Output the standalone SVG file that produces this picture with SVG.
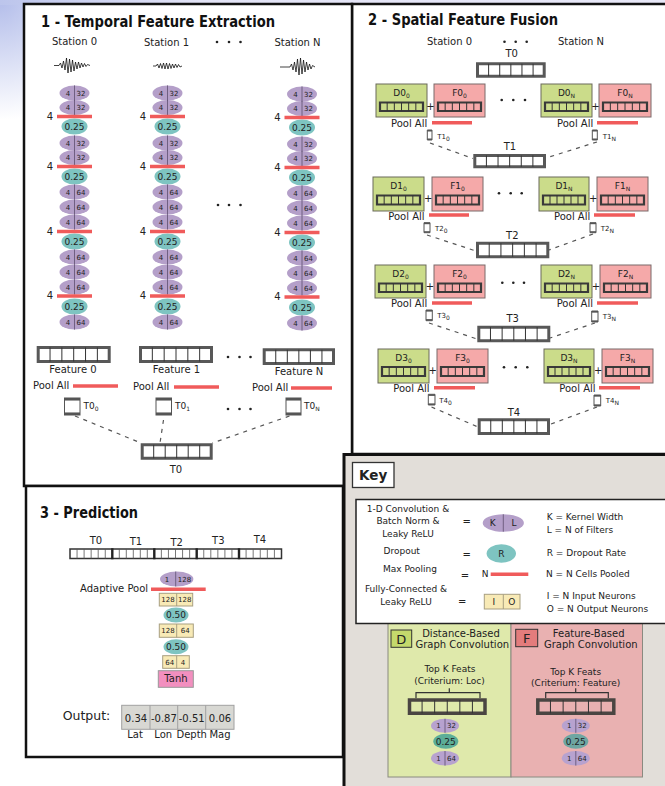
<svg xmlns="http://www.w3.org/2000/svg" width="665" height="786" viewBox="0 0 665 786">
<defs>
<radialGradient id="bgg" cx="0" cy="0" r="120" gradientUnits="userSpaceOnUse"><stop offset="0" stop-color="#b3bdea"/><stop offset="1" stop-color="#ffffff"/></radialGradient>
<linearGradient id="topg" x1="0" y1="0" x2="1" y2="0"><stop offset="0" stop-color="#bcc5ec"/><stop offset="0.3" stop-color="#e2e3f6"/><stop offset="1" stop-color="#e8e8f8"/></linearGradient>
<symbol id="ten" viewBox="0 0 60 12" preserveAspectRatio="none" overflow="visible">
<rect width="60" height="12" vector-effect="non-scaling-stroke"/>
<path d="M10 0V12M20 0V12M30 0V12M40 0V12M50 0V12" fill="none" stroke="#333" stroke-width="1" vector-effect="non-scaling-stroke"/>
</symbol>
<symbol id="tic" viewBox="0 0 10 20" preserveAspectRatio="none" overflow="visible">
<rect width="10" height="20" fill="#fff" stroke="#555" stroke-width="1" vector-effect="non-scaling-stroke"/>
<rect width="10" height="3" fill="#555"/><rect y="17" width="10" height="3" fill="#555"/>
</symbol>
<style>
.t{font-family:"DejaVu Sans",Verdana,sans-serif;fill:#222}
.c{text-anchor:middle}
.f10{font-size:10px}.f9{font-size:9px}.f7{font-size:7px}.f12{font-size:12.5px}
.sb{font-size:6px}
.ttl{font-size:15px;font-weight:bold;fill:#111}
.pe{fill:#b49fc9}
.te{fill:#7ec4c1}
.dv{stroke:#5e4f70;stroke-width:0.8;fill:none}
.rb{stroke:#f05b5b;stroke-width:3.5;fill:none}
.ds{stroke:#555;stroke-width:1.2;stroke-dasharray:4 5;fill:none}
.gb{fill:#cbdc8a;stroke:#6a6a5a;stroke-width:1}
.pb{fill:#f5a9a9;stroke:#7a6a6a;stroke-width:1}
.fc{fill:#f8eab6;stroke:#a89f80;stroke-width:1}
.wv{stroke:#111;stroke-width:0.8;fill:none;stroke-linejoin:round}
.tw{fill:#fff;stroke:#585858;stroke-width:3}
.tg{fill:#cbdc8a;stroke:#3a3a3a;stroke-width:2.2}
.tp{fill:#f5a9a9;stroke:#3a3a3a;stroke-width:2.2}
.dot{fill:#222}
</style>
</defs>

<rect width="665" height="786" fill="url(#bgg)"/>
<rect width="665" height="5" fill="url(#topg)"/>

<!-- Panel 2 -->
<g id="panel2">
<rect x="352" y="4" width="330" height="450" fill="#fff" stroke="#111" stroke-width="2.5"/>
<text class="t ttl" x="368" y="25" textLength="190" lengthAdjust="spacingAndGlyphs">2 - Spatial Feature Fusion</text>
<text class="t f10 c" x="449.5" y="45">Station 0</text>
<text class="t f10 c" x="581" y="45">Station N</text>
</g>

<!-- Panel 1 -->
<g id="panel1">
<rect x="24" y="4" width="328" height="482" fill="#fff" stroke="#111" stroke-width="2.5"/>
<text class="t ttl" x="41" y="27" textLength="234" lengthAdjust="spacingAndGlyphs">1 - Temporal Feature Extraction</text>
<text class="t f10 c" x="74.5" y="45">Station 0</text>
<text class="t f10 c" x="166.5" y="46">Station 1</text>
<text class="t f10 c" x="297.5" y="46">Station N</text>
</g>

<g id="waveforms">
<polyline class="wv" points="54,65.5 59,65.5 60.5,63 62,68 63.5,61 65,70 66.5,58 68,73 69.5,59 71,72 72.5,60 74,71 75.5,62 77,69 78.5,62 80,68 81.5,63 83,67 84.5,63.5 86,66.5 87.5,64.5 90,65.5"/>
<polyline class="wv" points="153,66 156,66 157.5,64 159,68 160.5,63.5 162,68.5 163.5,63 165,69 166.5,63 168,69 169.5,63.5 171,68.5 172.5,64 174,68 175.5,64 177,67.5 178.5,64.5 180,67 182,66"/>
<polyline class="wv" points="280,67 290,67 291.5,64 293,70 294.5,62 296,72 297.5,59 299,75 300.5,58 302,74 303.5,60 305,72 306.5,62 308,70 309.5,64 311,69 312.5,65.5 315,67"/>
</g>

<g id="col0" transform="translate(74.5,0)">
<ellipse class="pe" cy="93" rx="15" ry="7.6"/><ellipse class="pe" cy="107.5" rx="15" ry="7.6"/>
<ellipse class="te" cy="126.5" rx="13" ry="8"/>
<ellipse class="pe" cy="143" rx="15" ry="7.6"/><ellipse class="pe" cy="157.5" rx="15" ry="7.6"/>
<ellipse class="te" cy="176.5" rx="13" ry="8"/>
<ellipse class="pe" cy="192" rx="15" ry="7.6"/><ellipse class="pe" cy="207" rx="15" ry="7.6"/><ellipse class="pe" cy="222" rx="15" ry="7.6"/>
<ellipse class="te" cy="241.5" rx="13" ry="8"/>
<ellipse class="pe" cy="257" rx="15" ry="7.6"/><ellipse class="pe" cy="272" rx="15" ry="7.6"/><ellipse class="pe" cy="287" rx="15" ry="7.6"/>
<ellipse class="te" cy="306.5" rx="13" ry="8"/>
<ellipse class="pe" cy="322" rx="15" ry="7.6"/>
<path class="dv" d="M0 85.4V100.6M0 99.9V115.1M0 135.4V150.6M0 149.9V165.1M0 184.4V199.6M0 199.4V214.6M0 214.4V229.6M0 249.4V264.6M0 264.4V279.6M0 279.4V294.6M0 314.4V329.6"/>
<path class="rb" d="M-17.5 116.5H17.5M-17.5 166.5H17.5M-17.5 231.5H17.5M-17.5 296H17.5"/>
<text class="t f7 c" y="95.5"><tspan x="-6.5">4</tspan><tspan x="6.5">32</tspan></text>
<text class="t f7 c" y="110"><tspan x="-6.5">4</tspan><tspan x="6.5">32</tspan></text>
<text class="t f7 c" y="145.5"><tspan x="-6.5">4</tspan><tspan x="6.5">32</tspan></text>
<text class="t f7 c" y="160"><tspan x="-6.5">4</tspan><tspan x="6.5">32</tspan></text>
<text class="t f7 c" y="194.5"><tspan x="-6.5">4</tspan><tspan x="6.5">64</tspan></text>
<text class="t f7 c" y="209.5"><tspan x="-6.5">4</tspan><tspan x="6.5">64</tspan></text>
<text class="t f7 c" y="224.5"><tspan x="-6.5">4</tspan><tspan x="6.5">64</tspan></text>
<text class="t f7 c" y="259.5"><tspan x="-6.5">4</tspan><tspan x="6.5">64</tspan></text>
<text class="t f7 c" y="274.5"><tspan x="-6.5">4</tspan><tspan x="6.5">64</tspan></text>
<text class="t f7 c" y="289.5"><tspan x="-6.5">4</tspan><tspan x="6.5">64</tspan></text>
<text class="t f7 c" y="324.5"><tspan x="-6.5">4</tspan><tspan x="6.5">64</tspan></text>
<text class="t f9 c" y="129.7">0.25</text><text class="t f9 c" y="179.7">0.25</text><text class="t f9 c" y="244.7">0.25</text><text class="t f9 c" y="309.7">0.25</text>
<text class="t f10 c" x="-24.5" y="119.8">4</text><text class="t f10 c" x="-24.5" y="169.8">4</text><text class="t f10 c" x="-24.5" y="234.8">4</text><text class="t f10 c" x="-24.5" y="299.3">4</text>
</g>

<g id="col1" transform="translate(167.5,0)">
<ellipse class="pe" cy="93" rx="15" ry="7.6"/><ellipse class="pe" cy="107.5" rx="15" ry="7.6"/>
<ellipse class="te" cy="126.5" rx="13" ry="8"/>
<ellipse class="pe" cy="143" rx="15" ry="7.6"/><ellipse class="pe" cy="157.5" rx="15" ry="7.6"/>
<ellipse class="te" cy="176.5" rx="13" ry="8"/>
<ellipse class="pe" cy="192" rx="15" ry="7.6"/><ellipse class="pe" cy="207" rx="15" ry="7.6"/><ellipse class="pe" cy="222" rx="15" ry="7.6"/>
<ellipse class="te" cy="241.5" rx="13" ry="8"/>
<ellipse class="pe" cy="257" rx="15" ry="7.6"/><ellipse class="pe" cy="272" rx="15" ry="7.6"/><ellipse class="pe" cy="287" rx="15" ry="7.6"/>
<ellipse class="te" cy="306.5" rx="13" ry="8"/>
<ellipse class="pe" cy="322" rx="15" ry="7.6"/>
<path class="dv" d="M0 85.4V100.6M0 99.9V115.1M0 135.4V150.6M0 149.9V165.1M0 184.4V199.6M0 199.4V214.6M0 214.4V229.6M0 249.4V264.6M0 264.4V279.6M0 279.4V294.6M0 314.4V329.6"/>
<path class="rb" d="M-17.5 116.5H17.5M-17.5 166.5H17.5M-17.5 231.5H17.5M-17.5 296H17.5"/>
<text class="t f7 c" y="95.5"><tspan x="-6.5">4</tspan><tspan x="6.5">32</tspan></text>
<text class="t f7 c" y="110"><tspan x="-6.5">4</tspan><tspan x="6.5">32</tspan></text>
<text class="t f7 c" y="145.5"><tspan x="-6.5">4</tspan><tspan x="6.5">32</tspan></text>
<text class="t f7 c" y="160"><tspan x="-6.5">4</tspan><tspan x="6.5">32</tspan></text>
<text class="t f7 c" y="194.5"><tspan x="-6.5">4</tspan><tspan x="6.5">64</tspan></text>
<text class="t f7 c" y="209.5"><tspan x="-6.5">4</tspan><tspan x="6.5">64</tspan></text>
<text class="t f7 c" y="224.5"><tspan x="-6.5">4</tspan><tspan x="6.5">64</tspan></text>
<text class="t f7 c" y="259.5"><tspan x="-6.5">4</tspan><tspan x="6.5">64</tspan></text>
<text class="t f7 c" y="274.5"><tspan x="-6.5">4</tspan><tspan x="6.5">64</tspan></text>
<text class="t f7 c" y="289.5"><tspan x="-6.5">4</tspan><tspan x="6.5">64</tspan></text>
<text class="t f7 c" y="324.5"><tspan x="-6.5">4</tspan><tspan x="6.5">64</tspan></text>
<text class="t f9 c" y="129.7">0.25</text><text class="t f9 c" y="179.7">0.25</text><text class="t f9 c" y="244.7">0.25</text><text class="t f9 c" y="309.7">0.25</text>
<text class="t f10 c" x="-24.5" y="119.8">4</text><text class="t f10 c" x="-24.5" y="169.8">4</text><text class="t f10 c" x="-24.5" y="234.8">4</text><text class="t f10 c" x="-24.5" y="299.3">4</text>
</g>

<g id="colN" transform="translate(302,1)">
<ellipse class="pe" cy="93" rx="15" ry="7.6"/><ellipse class="pe" cy="107.5" rx="15" ry="7.6"/>
<ellipse class="te" cy="126.5" rx="13" ry="8"/>
<ellipse class="pe" cy="143" rx="15" ry="7.6"/><ellipse class="pe" cy="157.5" rx="15" ry="7.6"/>
<ellipse class="te" cy="176.5" rx="13" ry="8"/>
<ellipse class="pe" cy="192" rx="15" ry="7.6"/><ellipse class="pe" cy="207" rx="15" ry="7.6"/><ellipse class="pe" cy="222" rx="15" ry="7.6"/>
<ellipse class="te" cy="241.5" rx="13" ry="8"/>
<ellipse class="pe" cy="257" rx="15" ry="7.6"/><ellipse class="pe" cy="272" rx="15" ry="7.6"/><ellipse class="pe" cy="287" rx="15" ry="7.6"/>
<ellipse class="te" cy="306.5" rx="13" ry="8"/>
<ellipse class="pe" cy="322" rx="15" ry="7.6"/>
<path class="dv" d="M0 85.4V100.6M0 99.9V115.1M0 135.4V150.6M0 149.9V165.1M0 184.4V199.6M0 199.4V214.6M0 214.4V229.6M0 249.4V264.6M0 264.4V279.6M0 279.4V294.6M0 314.4V329.6"/>
<path class="rb" d="M-17.5 116.5H17.5M-17.5 166.5H17.5M-17.5 231.5H17.5M-17.5 296H17.5"/>
<text class="t f7 c" y="95.5"><tspan x="-6.5">4</tspan><tspan x="6.5">32</tspan></text>
<text class="t f7 c" y="110"><tspan x="-6.5">4</tspan><tspan x="6.5">32</tspan></text>
<text class="t f7 c" y="145.5"><tspan x="-6.5">4</tspan><tspan x="6.5">32</tspan></text>
<text class="t f7 c" y="160"><tspan x="-6.5">4</tspan><tspan x="6.5">32</tspan></text>
<text class="t f7 c" y="194.5"><tspan x="-6.5">4</tspan><tspan x="6.5">64</tspan></text>
<text class="t f7 c" y="209.5"><tspan x="-6.5">4</tspan><tspan x="6.5">64</tspan></text>
<text class="t f7 c" y="224.5"><tspan x="-6.5">4</tspan><tspan x="6.5">64</tspan></text>
<text class="t f7 c" y="259.5"><tspan x="-6.5">4</tspan><tspan x="6.5">64</tspan></text>
<text class="t f7 c" y="274.5"><tspan x="-6.5">4</tspan><tspan x="6.5">64</tspan></text>
<text class="t f7 c" y="289.5"><tspan x="-6.5">4</tspan><tspan x="6.5">64</tspan></text>
<text class="t f7 c" y="324.5"><tspan x="-6.5">4</tspan><tspan x="6.5">64</tspan></text>
<text class="t f9 c" y="129.7">0.25</text><text class="t f9 c" y="179.7">0.25</text><text class="t f9 c" y="244.7">0.25</text><text class="t f9 c" y="309.7">0.25</text>
<text class="t f10 c" x="-24.5" y="119.8">4</text><text class="t f10 c" x="-24.5" y="169.8">4</text><text class="t f10 c" x="-24.5" y="234.8">4</text><text class="t f10 c" x="-24.5" y="299.3">4</text>
</g>

<g id="features1">
<g id="feat0"><use href="#ten" class="tw" x="38.2" y="347.5" width="71" height="14"/><text class="t f10 c" x="73" y="372.5">Feature 0</text>
<text class="t f10" x="33" y="389">Pool All</text><path class="rb" d="M73 386H118" stroke-width="4"/>
<use href="#tic" x="64.5" y="398" width="15.5" height="17"/><text class="t f9" x="83.5" y="409">T0<tspan class="sb" dy="2">0</tspan></text></g>
<g id="feat1"><use href="#ten" class="tw" x="140.5" y="347.5" width="71" height="14"/><text class="t f10 c" x="176.5" y="372.5">Feature 1</text>
<text class="t f10" x="133" y="390">Pool All</text><path class="rb" d="M174 387H219" stroke-width="4"/>
<use href="#tic" x="156" y="398" width="15.5" height="17"/><text class="t f9" x="175" y="409">T0<tspan class="sb" dy="2">1</tspan></text></g>
<g id="featN"><use href="#ten" class="tw" x="264.2" y="349.8" width="69.3" height="13.7"/><text class="t f10 c" x="299" y="375">Feature N</text>
<text class="t f10" x="252" y="390.5">Pool All</text><path class="rb" d="M291 388H332" stroke-width="4"/>
<use href="#tic" x="286" y="398" width="15" height="17"/><text class="t f9" x="304" y="409">T0<tspan class="sb" dy="2">N</tspan></text></g>
<g id="T0agg"><use href="#ten" class="tw" x="142.2" y="444.8" width="69" height="13.5"/><text class="t f10 c" x="176" y="473">T0</text></g>
</g>

<g id="dots" class="dot">
<circle cx="217" cy="42" r="1.3"/><circle cx="229" cy="42" r="1.3"/><circle cx="240.5" cy="42" r="1.3"/>
<circle cx="218" cy="205" r="1.3"/><circle cx="229" cy="205" r="1.3"/><circle cx="240.5" cy="205" r="1.3"/>
<circle cx="228" cy="357" r="1.3"/><circle cx="239.5" cy="357" r="1.3"/><circle cx="250.5" cy="357" r="1.3"/>
<circle cx="228" cy="409" r="1.3"/><circle cx="239.5" cy="409" r="1.3"/><circle cx="250.5" cy="409" r="1.3"/>
<circle cx="504.5" cy="41.7" r="1.3"/><circle cx="515.7" cy="41.7" r="1.3"/><circle cx="526.7" cy="41.7" r="1.3"/>
<circle cx="501.7" cy="100" r="1.3"/><circle cx="513.3" cy="100" r="1.3"/><circle cx="525" cy="100" r="1.3"/>
<circle cx="499" cy="193.3" r="1.3"/><circle cx="510.7" cy="193.3" r="1.3"/><circle cx="521.7" cy="193.3" r="1.3"/>
<circle cx="502.3" cy="282.7" r="1.3"/><circle cx="513.3" cy="282.7" r="1.3"/><circle cx="524" cy="282.7" r="1.3"/>
<circle cx="504" cy="367.3" r="1.3"/><circle cx="515.7" cy="367.3" r="1.3"/><circle cx="527.3" cy="367.3" r="1.3"/>
</g>

<!-- Panel 2 nodes -->
<g id="T0box"><text class="t f10 c" x="511.7" y="57.3">T0</text><use href="#ten" class="tw" x="477.5" y="63.8" width="66.7" height="12.4"/></g>
<g id="T1box"><text class="t f10 c" x="510" y="150">T1</text><use href="#ten" class="tw" x="474.8" y="155.5" width="69.7" height="11.3"/></g>
<g id="T2box"><text class="t f10 c" x="512.3" y="239">T2</text><use href="#ten" class="tw" x="477.5" y="243.2" width="70.3" height="13.6"/></g>
<g id="T3box"><text class="t f10 c" x="512.7" y="322.3">T3</text><use href="#ten" class="tw" x="478.8" y="327.2" width="70" height="13.6"/></g>
<g id="T4box"><text class="t f10 c" x="514" y="415.7">T4</text><use href="#ten" class="tw" x="479.2" y="419.8" width="69.3" height="13.7"/></g>

<g id="row0">
<g id="D0_0"><rect class="gb" x="376" y="84" width="51" height="33"/><text class="t f9 c" x="401.5" y="96">D0<tspan class="sb" dy="1.5">0</tspan></text><use href="#ten" class="tg" x="380" y="102.5" width="43" height="8.5"/></g>
<g id="F0_0"><rect class="pb" x="434" y="84" width="51" height="33"/><text class="t f9 c" x="459.5" y="96">F0<tspan class="sb" dy="1.5">0</tspan></text><use href="#ten" class="tp" x="438" y="102.5" width="43" height="8.5"/></g>
<g id="D0_N"><rect class="gb" x="541" y="84" width="51" height="33"/><text class="t f9 c" x="566.5" y="96">D0<tspan class="sb" dy="1.5">N</tspan></text><use href="#ten" class="tg" x="545" y="102.5" width="43" height="8.5"/></g>
<g id="F0_N"><rect class="pb" x="599" y="84" width="52" height="33"/><text class="t f9 c" x="625" y="96">F0<tspan class="sb" dy="1.5">N</tspan></text><use href="#ten" class="tp" x="603" y="102.5" width="44" height="8.5"/></g>
<text class="t f10 c" x="430.5" y="110">+</text><text class="t f10 c" x="595.5" y="110">+</text>
<text class="t f10" x="391" y="127">Pool All</text><path class="rb" d="M432 122.7H472"/>
<text class="t f10" x="557" y="127">Pool All</text><path class="rb" d="M597 122.7H638"/>
<use href="#tic" x="427.3" y="130" width="4.7" height="10"/><text class="t f7" x="437.3" y="139">T1<tspan class="sb" font-size="5" dy="1.5">0</tspan></text>
<use href="#tic" x="592.3" y="130" width="5" height="10"/><text class="t f7" x="602.7" y="139">T1<tspan class="sb" font-size="5" dy="1.5">N</tspan></text>
</g>

<g id="row1">
<g id="D1_0"><rect class="gb" x="373" y="177" width="51" height="34"/><text class="t f9 c" x="398.5" y="189">D1<tspan class="sb" dy="1.5">0</tspan></text><use href="#ten" class="tg" x="377" y="195.5" width="43" height="9"/></g>
<g id="F1_0"><rect class="pb" x="432" y="177" width="51" height="34"/><text class="t f9 c" x="457.5" y="189">F1<tspan class="sb" dy="1.5">0</tspan></text><use href="#ten" class="tp" x="436" y="195.5" width="43" height="9"/></g>
<g id="D1_N"><rect class="gb" x="539" y="177" width="50" height="34"/><text class="t f9 c" x="564" y="189">D1<tspan class="sb" dy="1.5">N</tspan></text><use href="#ten" class="tg" x="543" y="195.5" width="42" height="9"/></g>
<g id="F1_N"><rect class="pb" x="597" y="177" width="51" height="34"/><text class="t f9 c" x="622.5" y="189">F1<tspan class="sb" dy="1.5">N</tspan></text><use href="#ten" class="tp" x="601" y="195.5" width="43" height="9"/></g>
<text class="t f10 c" x="428.3" y="201.7">+</text><text class="t f10 c" x="593.3" y="201.7">+</text>
<text class="t f10" x="388.3" y="220">Pool All</text><path class="rb" d="M429 215H469"/>
<text class="t f10" x="554" y="220">Pool All</text><path class="rb" d="M594 215H635"/>
<use href="#tic" x="424" y="222.7" width="6" height="10"/><text class="t f7" x="435" y="231">T2<tspan class="sb" font-size="5" dy="1.5">0</tspan></text>
<use href="#tic" x="590" y="222.7" width="6" height="10"/><text class="t f7" x="600.7" y="231">T2<tspan class="sb" font-size="5" dy="1.5">N</tspan></text>
</g>

<g id="row2">
<g id="D2_0"><rect class="gb" x="375" y="265" width="51" height="33"/><text class="t f9 c" x="400.5" y="277">D2<tspan class="sb" dy="1.5">0</tspan></text><use href="#ten" class="tg" x="379" y="283.5" width="43" height="8.5"/></g>
<g id="F2_0"><rect class="pb" x="434" y="265" width="51" height="33"/><text class="t f9 c" x="459.5" y="277">F2<tspan class="sb" dy="1.5">0</tspan></text><use href="#ten" class="tp" x="438" y="283.5" width="43" height="8.5"/></g>
<g id="D2_N"><rect class="gb" x="541" y="265" width="51" height="33"/><text class="t f9 c" x="566.5" y="277">D2<tspan class="sb" dy="1.5">N</tspan></text><use href="#ten" class="tg" x="545" y="283.5" width="43" height="8.5"/></g>
<g id="F2_N"><rect class="pb" x="600" y="265" width="51" height="33"/><text class="t f9 c" x="625.5" y="277">F2<tspan class="sb" dy="1.5">N</tspan></text><use href="#ten" class="tp" x="604" y="283.5" width="43" height="8.5"/></g>
<text class="t f10 c" x="430" y="290">+</text><text class="t f10 c" x="596" y="290">+</text>
<text class="t f10" x="391" y="306.7">Pool All</text><path class="rb" d="M432 303H472"/>
<text class="t f10" x="556.7" y="306.7">Pool All</text><path class="rb" d="M597 303H638"/>
<use href="#tic" x="426" y="310" width="6.3" height="10.7"/><text class="t f7" x="437.3" y="318">T3<tspan class="sb" font-size="5" dy="1.5">0</tspan></text>
<use href="#tic" x="591.7" y="311" width="6.3" height="11"/><text class="t f7" x="602.7" y="319">T3<tspan class="sb" font-size="5" dy="1.5">N</tspan></text>
</g>

<g id="row3">
<g id="D3_0"><rect class="gb" x="378" y="349" width="51" height="34"/><text class="t f9 c" x="403.5" y="361">D3<tspan class="sb" dy="1.5">0</tspan></text><use href="#ten" class="tg" x="382" y="367" width="43" height="9"/></g>
<g id="F3_0"><rect class="pb" x="437" y="349" width="51" height="34"/><text class="t f9 c" x="462.5" y="361">F3<tspan class="sb" dy="1.5">0</tspan></text><use href="#ten" class="tp" x="441" y="367" width="43" height="9"/></g>
<g id="D3_N"><rect class="gb" x="544" y="349" width="50" height="34"/><text class="t f9 c" x="569" y="361">D3<tspan class="sb" dy="1.5">N</tspan></text><use href="#ten" class="tg" x="548" y="367" width="42" height="9"/></g>
<g id="F3_N"><rect class="pb" x="602" y="349" width="51" height="34"/><text class="t f9 c" x="627.5" y="361">F3<tspan class="sb" dy="1.5">N</tspan></text><use href="#ten" class="tp" x="606" y="367" width="43" height="9"/></g>
<text class="t f10 c" x="432.7" y="374">+</text><text class="t f10 c" x="598.3" y="374">+</text>
<text class="t f10" x="393.3" y="391.7">Pool All</text><path class="rb" d="M434 387.7H475"/>
<text class="t f10" x="559.3" y="391.7">Pool All</text><path class="rb" d="M599 387.7H640"/>
<use href="#tic" x="428.3" y="394.3" width="6.7" height="10.7"/><text class="t f7" x="439.3" y="403">T4<tspan class="sb" font-size="5" dy="1.5">0</tspan></text>
<use href="#tic" x="594" y="395" width="6.7" height="11"/><text class="t f7" x="605.7" y="403">T4<tspan class="sb" font-size="5" dy="1.5">N</tspan></text>
</g>

<g id="connectors">
<path class="ds" d="M75 416L141 443M163.5 420L160 443M289.5 416L212.5 443"/>
<path class="ds" d="M430 143L473 158.5M597 142L546 158"/>
<path class="ds" d="M427 235L476 251M593 234L549 250"/>
<path class="ds" d="M429 323L477 339M595 323L550 338"/>
<path class="ds" d="M431.5 407L478 427M597 407L551 424"/>
</g>

<!-- Panel 3 -->
<g id="panel3">
<rect x="26" y="486" width="317" height="271" fill="#fff" stroke="#111" stroke-width="2.5"/>
<text class="t ttl" x="40" y="518.3" textLength="98" lengthAdjust="spacingAndGlyphs">3 - Prediction</text>
<text class="t f10 c" x="96" y="544">T0</text><text class="t f10 c" x="136" y="545">T1</text><text class="t f10 c" x="176.7" y="546">T2</text><text class="t f10 c" x="218.3" y="544">T3</text><text class="t f10 c" x="260" y="542.7">T4</text>
</g>
<g id="concat">
<rect x="70" y="549" width="211.5" height="9.5" fill="#fff" stroke="#333" stroke-width="1.5"/>
<path d="M77.05 549V558.5M84.1 549V558.5M91.15 549V558.5M98.2 549V558.5M105.25 549V558.5M119.3 549V558.5M126.3 549V558.5M133.3 549V558.5M140.3 549V558.5M147.3 549V558.5M161.37 549V558.5M168.43 549V558.5M175.5 549V558.5M182.57 549V558.5M189.63 549V558.5M203.75 549V558.5M210.8 549V558.5M217.85 549V558.5M224.9 549V558.5M231.95 549V558.5M246.08 549V558.5M253.17 549V558.5M260.25 549V558.5M267.33 549V558.5M274.42 549V558.5" stroke="#555" stroke-width="0.8" fill="none"/>
<path d="M112.3 548.3V559.2M154.3 548.3V559.2M196.7 548.3V559.2M239 548.3V559.2" stroke="#222" stroke-width="2.4" fill="none"/>
</g>
<g id="conv128">
<ellipse class="pe" cx="176.7" cy="579" rx="16.7" ry="7.5"/><path class="dv" d="M175.7 571.5V586.5"/>
<text class="t f7 c" y="581.5"><tspan x="167">1</tspan><tspan x="184.5">128</tspan></text>
</g>
<g id="apool"><text class="t f10" x="80" y="592.3">Adaptive Pool</text><path class="rb" d="M151 589.3H205.7" stroke-width="4"/></g>
<g id="fc1"><rect class="fc" x="159.3" y="593.3" width="33.4" height="12.7"/><path d="M176.7 593.3V606" stroke="#a89f80"/>
<text class="t f7 c" y="602.2"><tspan x="168">128</tspan><tspan x="184.7">128</tspan></text></g>
<g id="drop1"><ellipse class="te" cx="176" cy="615" rx="12.5" ry="7.5"/><text class="t f9 c" x="176" y="618.2">0.50</text></g>
<g id="fc2"><rect class="fc" x="159.3" y="624" width="34" height="13.3"/><path d="M176.7 624V637.3" stroke="#a89f80"/>
<text class="t f7 c" y="633.2"><tspan x="168">128</tspan><tspan x="185.3">64</tspan></text></g>
<g id="drop2"><ellipse class="te" cx="176" cy="646.7" rx="12.5" ry="7.5"/><text class="t f9 c" x="176" y="649.9">0.50</text></g>
<g id="fc3"><rect class="fc" x="162.7" y="655.7" width="26.6" height="12.6"/><path d="M176.7 655.7V668.3" stroke="#a89f80"/>
<text class="t f7 c" y="664.6"><tspan x="169.7">64</tspan><tspan x="183">4</tspan></text></g>
<g id="tanh"><rect x="158.3" y="670.7" width="35" height="16.6" fill="#f28fbf" stroke="#999" stroke-width="1"/><text class="t f10 c" x="176" y="682.3">Tanh</text></g>
<g id="output">
<text class="t f12" x="62.7" y="720">Output:</text>
<rect x="121.7" y="705.3" width="112.3" height="24" fill="#d8d8d3" stroke="#a0a0a0" stroke-width="1"/>
<path d="M150 705.3V729.3M177.7 705.3V729.3M205.7 705.3V729.3" stroke="#a0a0a0" stroke-width="1"/>
<text class="t f10 c" y="722"><tspan x="136">0.34</tspan><tspan x="163.9">-0.87</tspan><tspan x="191.7">-0.51</tspan><tspan x="220">0.06</tspan></text>
<text class="t f10 c" y="738.3"><tspan x="135">Lat</tspan><tspan x="163.3">Lon</tspan><tspan x="191.7">Depth</tspan><tspan x="220">Mag</tspan></text>
</g>

<!-- Key -->
<g id="key">
<rect x="344" y="454.5" width="330" height="340" fill="#e2ded9" stroke="#111" stroke-width="3"/>
<rect x="352.5" y="462.5" width="41.5" height="25" fill="#fff" stroke="#333" stroke-width="1.3"/>
<text class="t c" x="373.2" y="479.5" font-size="13.5" font-weight="bold" fill="#111">Key</text>
</g>
<g id="keyD">
<rect x="388" y="610" width="123" height="167" fill="#dfe9ab" stroke="#8a8a80" stroke-width="1"/>
<rect x="391" y="630" width="20.7" height="17.3" fill="#c4d96c" stroke="#333" stroke-width="1"/>
<text class="t c" x="401.3" y="643.5" font-size="13">D</text>
<text class="t f10 c" x="461" y="636.7">Distance-Based</text>
<text class="t f10 c" x="462.3" y="648.3">Graph Convolution</text>
<text class="t f9 c" x="450" y="672.3">Top K Feats</text>
<text class="t f9 c" x="449.5" y="683.5">(Criterium: Loc)</text>
<path d="M416 698.3V692.7H480V698.3M449.3 692.7V688.3" stroke="#333" stroke-width="1.2" fill="none"/>
<use href="#ten" x="409.5" y="700" width="75.5" height="13.3" fill="#dfe9ab" stroke="#4a4542" stroke-width="3.5"/>
<ellipse cx="445" cy="725.8" rx="14" ry="7" fill="#b7a2cf"/><path class="dv" d="M445 718.8V732.8"/>
<text class="t f7 c" y="728.3"><tspan x="438.5">1</tspan><tspan x="451.5">32</tspan></text>
<ellipse cx="445.8" cy="741.3" rx="12.5" ry="7.5" fill="#5cae98"/><text class="t f9 c" x="445.8" y="744.5">0.25</text>
<ellipse cx="445" cy="758.3" rx="14" ry="7.3" fill="#b7a2cf"/><path class="dv" d="M445 751V765.6"/>
<text class="t f7 c" y="760.8"><tspan x="438.5">1</tspan><tspan x="451.5">64</tspan></text>
</g>
<g id="keyF">
<rect x="511" y="610" width="131.5" height="167" fill="#e9b1b1" stroke="#8a8a80" stroke-width="1"/>
<rect x="515.7" y="629.3" width="22" height="17.4" fill="#e37c7c" stroke="#333" stroke-width="1"/>
<text class="t c" x="526.7" y="643" font-size="13">F</text>
<text class="t f10 c" x="588.7" y="636.7">Feature-Based</text>
<text class="t f10 c" x="590.8" y="648.3">Graph Convolution</text>
<text class="t f9 c" x="575.7" y="675">Top K Feats</text>
<text class="t f9 c" x="575.7" y="686">(Criterium: Feature)</text>
<path d="M545.7 698.3V692.7H608.3V698.3M575.7 692.7V688.3" stroke="#333" stroke-width="1.2" fill="none"/>
<use href="#ten" x="537.8" y="700" width="76" height="13.3" fill="#e9b1b1" stroke="#4a4542" stroke-width="3.5"/>
<ellipse cx="575.8" cy="725.8" rx="14" ry="7" fill="#b7a2cf"/><path class="dv" d="M575.8 718.8V732.8"/>
<text class="t f7 c" y="728.3"><tspan x="569.3">1</tspan><tspan x="582.3">32</tspan></text>
<ellipse cx="575.8" cy="741.3" rx="12.5" ry="7.5" fill="#6ea6a2"/><text class="t f9 c" x="575.8" y="744.5">0.25</text>
<ellipse cx="575.8" cy="758.3" rx="14" ry="7.3" fill="#b7a2cf"/><path class="dv" d="M575.8 751V765.6"/>
<text class="t f7 c" y="760.8"><tspan x="569.3">1</tspan><tspan x="582.3">64</tspan></text>
</g>
<g id="legend">
<rect x="356" y="499.5" width="320" height="124" fill="#fff" stroke="#222" stroke-width="1.5"/>
<text class="t f9 c" x="408" y="511.7">1-D Convolution &amp;</text>
<text class="t f9 c" x="408" y="524.3">Batch Norm &amp;</text>
<text class="t f9 c" x="408" y="536.7">Leaky ReLU</text>
<text class="t f10 c" x="466.7" y="525">=</text>
<ellipse class="pe" cx="503.3" cy="523" rx="20.6" ry="8.7"/><path class="dv" d="M503.3 514.3V531.7"/>
<text class="t f9 c" y="526.3"><tspan x="492.7">K</tspan><tspan x="514">L</tspan></text>
<text class="t f9" x="546.7" y="520">K = Kernel Width</text>
<text class="t f9" x="546.7" y="532.7">L = N of Filters</text>
<text class="t f9 c" x="401.7" y="554">Dropout</text>
<text class="t f10 c" x="466.7" y="557.5">=</text>
<ellipse class="te" cx="501.3" cy="553.5" rx="14.7" ry="9.2"/><text class="t f9 c" x="501.3" y="556.8">R</text>
<text class="t f9" x="546.7" y="555.7">R = Dropout Rate</text>
<text class="t f9 c" x="410" y="572.3">Max Pooling</text>
<text class="t f10 c" x="465" y="579.2">=</text>
<text class="t f9 c" x="485" y="577.3">N</text><path class="rb" d="M490.7 574.3H528.3"/>
<text class="t f9" x="546" y="577.3">N = N Cells Pooled</text>
<text class="t f9 c" x="406" y="592.3">Fully-Connected &amp;</text>
<text class="t f9 c" x="406" y="605">Leaky ReLU</text>
<text class="t f10 c" x="462.3" y="605.2">=</text>
<rect class="fc" x="484.3" y="594.3" width="35.7" height="14.7"/><path d="M503.3 594.3V609" stroke="#a89f80"/>
<text class="t f9 c" y="605"><tspan x="493.8">I</tspan><tspan x="511.7">O</tspan></text>
<text class="t f9" x="546.7" y="599">I = N Input Neurons</text>
<text class="t f9" x="546.7" y="611.7">O = N Output Neurons</text>
</g>
</svg>
